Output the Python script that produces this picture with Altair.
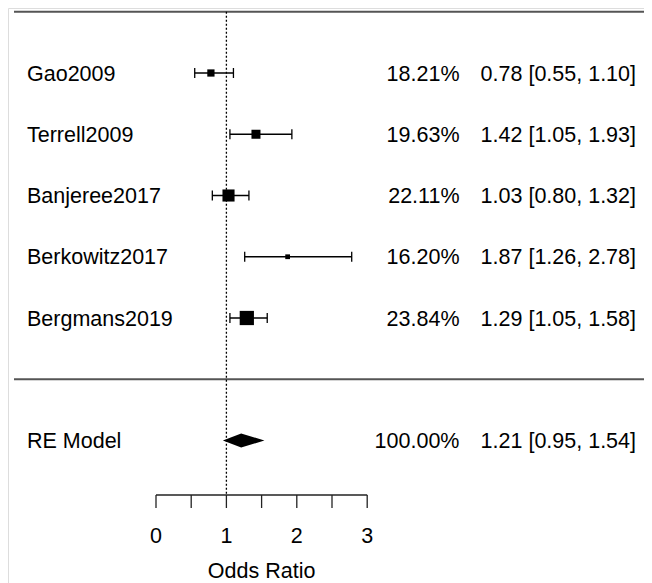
import altair as alt
import pandas as pd

# ---------------- data ----------------
studies = ["Gao2009", "Terrell2009", "Banjeree2017", "Berkowitz2017", "Bergmans2019"]
weights = [18.21, 19.63, 22.11, 16.20, 23.84]
estimates = [0.78, 1.42, 1.03, 1.87, 1.29]
lower = [0.55, 1.05, 0.80, 1.26, 1.05]
upper = [1.10, 1.93, 1.32, 2.78, 1.58]

model_label = "RE Model"
model_weight = 100.00
model_est = 1.21
model_lower = 0.95
model_upper = 1.54

tick_values = [0, 0.5, 1, 1.5, 2, 2.5, 3]
tick_label_values = [0, 1, 2, 3]
axis_title = "Odds Ratio"

# ---------------- layout (styles / positions) ----------------
W, H = 636, 575
X0_PX, UNIT = 148.0, 70.4          # pixel of x=0, pixels per unit
ROW5_PX, ROW = 65.0, 61.25         # pixel of row 5, pixels per row
FONT = "Liberation Sans"
FS = 21.5
DY = 7.7

k = len(studies)
xscale = alt.Scale(domain=[-X0_PX / UNIT, (W - X0_PX) / UNIT], nice=False, zero=False)
yscale = alt.Scale(domain=[k - (H - ROW5_PX) / ROW, k + ROW5_PX / ROW], nice=False, zero=False)


def row_at(px):
    return k - (px - ROW5_PX) / ROW


r_axis = row_at(487)
r_tick_end = row_at(500)
r_ticklab = row_at(527)
r_title = row_at(562.0)
cap = 5 / ROW
dh = 7 / ROW

wmin, wmax = min(weights), max(weights)
df = pd.DataFrame({
    "study": studies,
    "w": weights,
    "est": estimates,
    "lo": lower,
    "hi": upper,
    "row": [k - i for i in range(k)],
})
df["side"] = 9.5 * (0.5 + (df["w"] - wmin) / (wmax - wmin))
df["size"] = df["side"] ** 2
df["pct"] = df["w"].map(lambda v: f"{v:.2f}%")
df["ci"] = [f"{e:.2f} [{l:.2f}, {h:.2f}]" for e, l, h in zip(df.est, df.lo, df.hi)]
df["cap_lo"] = df["row"] - cap
df["cap_hi"] = df["row"] + cap

labels = pd.DataFrame({
    "label": studies + [model_label],
    "pct": list(df["pct"]) + [f"{model_weight:.2f}%"],
    "ci": list(df["ci"]) + [f"{model_est:.2f} [{model_lower:.2f}, {model_upper:.2f}]"],
    "row": list(df["row"]) + [-1],
})

X = lambda f: alt.X(f, scale=xscale, axis=None)
Y = lambda f: alt.Y(f, scale=yscale, axis=None)

# horizontal separators
hl = alt.Chart(pd.DataFrame({"r": [k + 1, 0]})).mark_rule(
    color="#555555", strokeWidth=2
).encode(x=alt.value(6), x2=alt.value(W), y=Y("r:Q"))

# reference line
ref = alt.Chart(pd.DataFrame({"x": [1], "y1": [k + 1], "y2": [r_axis]})).mark_rule(
    color="black", strokeWidth=1.3, strokeDash=[2, 2]
).encode(x=X("x:Q"), y=Y("y1:Q"), y2="y2:Q")

base = alt.Chart(df)
ci = base.mark_rule(color="black", strokeWidth=1.3).encode(x=X("lo:Q"), x2="hi:Q", y=Y("row:Q"))
cap_l = base.mark_rule(color="black", strokeWidth=1.3).encode(x=X("lo:Q"), y=Y("cap_lo:Q"), y2="cap_hi:Q")
cap_h = base.mark_rule(color="black", strokeWidth=1.3).encode(x=X("hi:Q"), y=Y("cap_lo:Q"), y2="cap_hi:Q")
sq = base.mark_square(color="black", filled=True, opacity=1).encode(
    x=X("est:Q"), y=Y("row:Q"), size=alt.Size("size:Q", scale=None)
)

# summary diamond
dia_df = pd.DataFrame({
    "x": [model_lower, model_est, model_upper],
    "ya": [-1, -1 + dh, -1],
    "yb": [-1, -1 - dh, -1],
})
dia = alt.Chart(dia_df).mark_area(color="black", opacity=1).encode(
    x=X("x:Q"), y=Y("ya:Q"), y2="yb:Q"
)

# text columns
tbase = alt.Chart(labels)
t_lab = tbase.mark_text(align="left", baseline="alphabetic", dy=DY, font=FONT, fontSize=FS, color="black").encode(
    x=alt.value(19), y=Y("row:Q"), text="label:N")
t_pct = tbase.mark_text(align="right", baseline="alphabetic", dy=DY, font=FONT, fontSize=FS, color="black").encode(
    x=alt.value(451.5), y=Y("row:Q"), text="pct:N")
t_ci = tbase.mark_text(align="right", baseline="alphabetic", dy=DY, font=FONT, fontSize=FS, color="black").encode(
    x=alt.value(628), y=Y("row:Q"), text="ci:N")

# custom x axis
ax_line = alt.Chart(pd.DataFrame({"a": [min(tick_values)], "b": [max(tick_values)], "r": [r_axis]})).mark_rule(
    color="#222222", strokeWidth=1.3
).encode(x=X("a:Q"), x2="b:Q", y=Y("r:Q"))
ticks = alt.Chart(pd.DataFrame({"t": tick_values, "r1": r_axis, "r2": r_tick_end})).mark_rule(
    color="#222222", strokeWidth=1.3
).encode(x=X("t:Q"), y=Y("r1:Q"), y2="r2:Q")
tick_lab = alt.Chart(pd.DataFrame({"t": tick_label_values, "r": r_ticklab})).mark_text(
    align="center", baseline="alphabetic", dy=DY, font=FONT, fontSize=FS, color="black"
).encode(x=X("t:Q"), y=Y("r:Q"), text=alt.Text("t:Q", format="d"))
title = alt.Chart(pd.DataFrame({"t": [1.5], "r": [r_title], "s": [axis_title]})).mark_text(
    align="center", baseline="alphabetic", dy=DY, font=FONT, fontSize=FS, color="black"
).encode(x=X("t:Q"), y=Y("r:Q"), text="s:N")

chart = alt.layer(
    hl, ref, ci, cap_l, cap_h, sq, dia, t_lab, t_pct, t_ci, ax_line, ticks, tick_lab, title
).properties(
    width=W, height=H, padding=0, autosize=alt.AutoSizeParams(type="none")
).configure_view(stroke=None).configure(background="white")

chart.save("out.html", embed_options={"renderer": "svg", "actions": False})
